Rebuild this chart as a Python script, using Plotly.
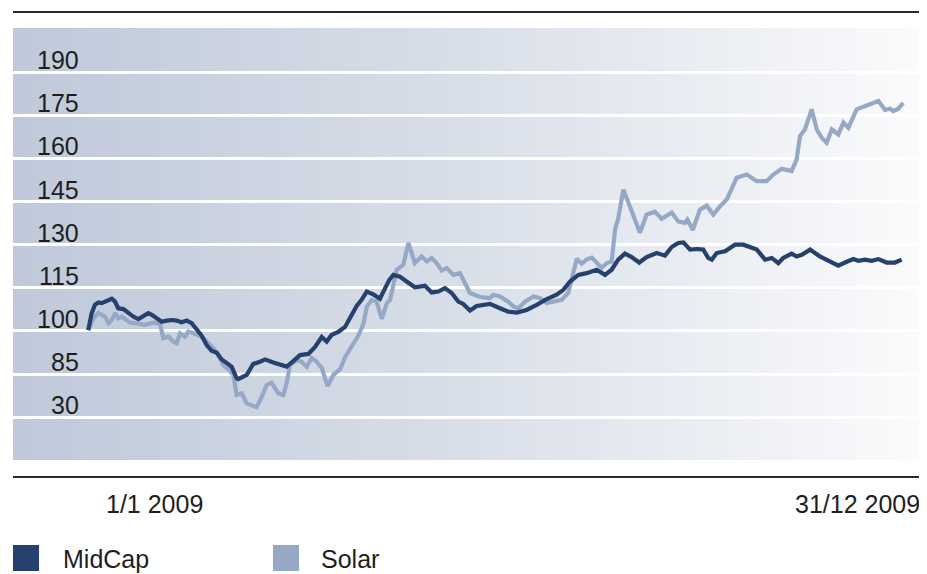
import base64
import plotly.graph_objects as go

# ---- data (day of year 2009, index value) ----
midcap_day = [0.1, 1.65, 3.1, 4.6, 6.1, 8.4, 10.6, 12.1, 13.5, 15.8, 18.0, 20.2, 22.5, 24.7, 26.9, 28.5,
              30.7, 32.9, 35.1, 37.4, 39.6, 41.8, 44.1, 46.3, 48.5, 50.8, 53.0, 55.2, 57.5, 59.7, 61.9,
              64.2, 66.4, 67.1, 70.9, 73.8, 76.8, 79.1, 82.8, 85.8, 88.7, 91.7, 94.7, 98.4, 101.4, 104.4,
              106.6, 108.8, 111.8, 114.8, 117.0, 120.0, 122.2, 124.5, 127.4, 130.4, 132.6, 134.6, 136.4,
              139.3, 142.3, 146.0, 150.5, 153.5, 156.5, 159.4, 162.4, 165.4, 167.6, 170.6, 173.6, 179.5,
              184.0, 187.7, 191.5, 195.9, 200.4, 204.9, 209.3, 212.3, 215.3, 219.0, 222.7, 227.2, 230.9,
              233.9, 236.8, 239.8, 242.8, 246.2, 249.5, 254.0, 257.7, 260.7, 263.6, 265.9, 268.9, 271.9,
              274.8, 277.0, 278.6, 280.8, 284.5, 289.0, 292.7, 298.7, 302.4, 305.4, 308.3, 310.5, 314.3,
              316.5, 318.8, 322.5, 326.9, 331.4, 335.1, 338.1, 341.8, 344.1, 347.0, 350.0, 353.0, 356.7,
              360.4, 363.4]
midcap_val = [100.3, 106.2, 109.1, 109.9, 109.7, 110.6, 111.2, 110.2, 107.9, 107.6, 106.2, 105.0, 104.1,
              105.2, 106.2, 105.6, 104.4, 103.2, 103.6, 103.8, 103.6, 103.0, 103.6, 102.7, 100.6, 98.3,
              95.1, 93.1, 92.4, 90.1, 88.9, 87.5, 83.5, 83.2, 84.7, 88.5, 89.3, 90.1, 89.0, 88.1, 87.6,
              89.5, 91.6, 92.0, 94.4, 97.9, 96.3, 98.6, 99.7, 101.4, 104.4, 108.7, 110.8, 113.7, 112.7,
              111.2, 114.7, 117.8, 119.5, 118.9, 117.2, 115.2, 115.7, 113.4, 113.7, 114.9, 113.2, 110.2,
              109.4, 107.1, 108.7, 109.4, 107.9, 106.7, 106.4, 107.3, 109.1, 111.1, 112.6, 114.3, 117.2,
              119.5, 120.1, 121.3, 119.5, 121.3, 124.8, 126.9, 125.7, 123.8, 125.7, 127.1, 126.2, 129.2,
              130.6, 130.8, 128.3, 128.5, 128.3, 125.4, 124.8, 127.1, 127.7, 130.0, 130.0, 128.3, 124.8,
              125.4, 123.6, 125.4, 126.9, 125.9, 126.5, 128.3, 125.9, 124.2, 122.7, 123.8, 125.0, 124.4,
              124.8, 124.4, 125.0, 123.8, 123.8, 124.8]

solar_day = [0.1, 2.4, 4.6, 6.1, 7.6, 9.1, 10.6, 12.1, 13.5, 15.1, 16.5, 18.8, 21.0, 23.2, 25.5, 27.7,
             29.9, 32.2, 33.6, 35.9, 38.1, 39.6, 41.1, 43.3, 44.8, 47.0, 49.3, 51.5, 53.7, 56.0, 58.2,
             60.4, 62.7, 64.9, 66.4, 68.6, 70.9, 73.1, 75.3, 77.6, 79.8, 82.0, 85.0, 87.2, 88.7, 90.2,
             93.2, 95.4, 97.7, 99.9, 102.1, 104.4, 107.0, 109.6, 112.6, 114.8, 117.8, 120.7, 123.0, 124.5,
             126.7, 128.9, 131.2, 133.5, 134.9, 137.9, 140.8, 143.1, 146.0, 149.0, 151.3, 153.5, 155.7,
             158.0, 160.2, 163.2, 166.1, 168.4, 170.6, 175.1, 179.5, 181.0, 184.0, 187.7, 190.0, 192.2,
             195.2, 198.9, 201.9, 204.9, 207.8, 211.6, 214.5, 216.0, 218.3, 220.5, 222.7, 225.0, 227.2,
             229.4, 231.7, 233.9, 235.4, 236.8, 239.1, 241.3, 242.8, 244.3, 246.5, 249.5, 253.2, 256.2,
             260.7, 263.6, 266.6, 267.7, 270.1, 273.3, 276.3, 279.3, 282.3, 285.3, 289.7, 294.2, 298.7,
             303.1, 306.1, 309.8, 314.3, 316.5, 318.0, 320.2, 323.2, 325.5, 327.7, 329.9, 332.2, 335.1,
             337.4, 339.6, 343.3, 347.0, 350.0, 353.0, 356.0, 358.2, 359.7, 361.9, 364.1]
solar_val = [100.3, 104.4, 106.2, 105.6, 105.0, 102.7, 103.8, 106.2, 104.4, 105.0, 104.1, 102.9, 102.7,
             102.4, 102.1, 102.7, 102.9, 102.4, 97.5, 98.0, 96.3, 95.7, 99.2, 98.0, 99.8, 99.2, 98.6,
             97.5, 95.7, 94.0, 91.6, 88.1, 86.6, 84.7, 77.7, 78.3, 74.8, 74.2, 73.5, 77.1, 81.2, 82.0,
             78.3, 77.7, 81.8, 88.1, 89.9, 89.3, 87.5, 90.6, 89.3, 87.1, 80.8, 84.7, 86.7, 90.9, 94.4,
             98.3, 102.4, 108.4, 110.8, 110.2, 104.2, 109.7, 110.8, 121.3, 123.0, 130.6, 123.6, 125.9,
             124.2, 125.4, 123.6, 121.0, 121.9, 119.5, 120.1, 116.6, 113.2, 111.8, 111.4, 112.6, 112.0,
             110.2, 108.5, 107.9, 110.2, 112.0, 111.4, 109.7, 110.2, 110.8, 113.3, 117.8, 125.1, 123.4,
             124.8, 125.5, 123.6, 122.0, 123.6, 124.2, 135.2, 139.1, 149.2, 145.1, 142.2, 138.7, 134.2,
             140.5, 141.5, 139.0, 141.2, 138.1, 137.6, 138.7, 135.1, 142.2, 143.6, 140.5, 143.4, 145.7,
             153.3, 154.4, 152.1, 152.1, 154.4, 156.4, 155.6, 159.7, 167.8, 170.1, 177.1, 170.1, 167.2,
             165.5, 170.1, 168.4, 172.5, 170.7, 177.1, 178.2, 178.8, 180.0, 176.9, 177.3, 176.5, 177.3,
             179.4]

tick_vals = [70, 85, 100, 115, 130, 145, 160, 175, 190]
tick_text = ["30", "85", "100", "115", "130", "145", "160", "175", "190"]
series_names = ["MidCap", "Solar"]
series_colors = ["#26416e", "#95a9c6"]
x_labels = ["1/1 2009", "31/12 2009"]

# page body has an 8px margin: figure sits at (8, 8) in the window
OFF = 8
W, H = 927 - OFF, 574 - OFF
PX0, PX1 = 13, 922      # plot area horizontal pixels (window coords)
PY0, PY1 = 28, 460      # plot area vertical pixels (window coords)
FONT = "Liberation Sans, Arial, Helvetica, sans-serif"
TXT = "#1e1e1e"


def fx(px):
    return (px - OFF) / W


def fy(py):
    return 1 - (py - OFF) / H


fig = go.Figure()
fig.add_trace(go.Scatter(x=solar_day, y=solar_val, mode="lines", name=series_names[1],
                         line=dict(color=series_colors[1], width=4.2), showlegend=False))
fig.add_trace(go.Scatter(x=midcap_day, y=midcap_val, mode="lines", name=series_names[0],
                         line=dict(color=series_colors[0], width=4.2), showlegend=False))

# gradient background as svg image
svg = ('<svg xmlns="http://www.w3.org/2000/svg" width="909" height="432" preserveAspectRatio="none">'
       '<defs><linearGradient id="g" x1="0" y1="0" x2="1" y2="0">'
       '<stop offset="0" stop-color="#bfc9da"/>'
       '<stop offset="0.5" stop-color="#d9dfe9"/>'
       '<stop offset="1" stop-color="#fbfbfc"/>'
       '</linearGradient></defs><rect x="0" y="0" width="909" height="432" fill="url(#g)"/></svg>')
src = "data:image/svg+xml;base64," + base64.b64encode(svg.encode()).decode()
fig.add_layout_image(dict(source=src, xref="paper", yref="paper", x=fx(PX0), y=fy(PY0),
                          sizex=(PX1 - PX0) / W, sizey=(PY1 - PY0) / H, sizing="stretch",
                          xanchor="left", yanchor="top", layer="below"))

# y labels above gridlines
for v, t in zip(tick_vals, tick_text):
    fig.add_annotation(x=fx(81), xref="paper", y=v, yref="y", text=t, showarrow=False,
                       xanchor="right", yanchor="bottom", yshift=-4,
                       font=dict(family=FONT, size=25, color=TXT))

# top and bottom rules
for py in (12, 477):
    fig.add_shape(type="line", xref="paper", yref="paper", x0=fx(PX0), x1=fx(PX1),
                  y0=fy(py), y1=fy(py), line=dict(color="#2a2a2a", width=2))

# x labels
fig.add_annotation(x=fx(154), xref="paper", y=fy(504), yref="paper", text=x_labels[0],
                   showarrow=False, xanchor="center", yanchor="middle",
                   font=dict(family=FONT, size=25, color=TXT))
fig.add_annotation(x=fx(922), xref="paper", y=fy(504), yref="paper", text=x_labels[1],
                   showarrow=False, xanchor="right", yanchor="middle",
                   font=dict(family=FONT, size=25, color=TXT))

# legend
for (sx, tx), name, col in zip([(13, 62), (273, 320)], series_names, series_colors):
    fig.add_shape(type="rect", xref="paper", yref="paper", x0=fx(sx), x1=fx(sx + 26),
                  y0=fy(571), y1=fy(545), line=dict(width=0), fillcolor=col)
    fig.add_annotation(x=fx(tx), xref="paper", y=fy(574), yref="paper", text=name,
                       showarrow=False, xanchor="left", yanchor="bottom", borderpad=0,
                       font=dict(family=FONT, size=25, color=TXT))

fig.update_layout(
    width=W, height=H, margin=dict(l=0, r=0, t=0, b=0),
    paper_bgcolor="white", plot_bgcolor="rgba(0,0,0,0)",
    xaxis=dict(domain=[fx(PX0), fx(PX1)], range=[(PX0 - 88) * 364 / 815, (PX1 - 88) * 364 / 815],
               showgrid=False, zeroline=False, showticklabels=False, showline=False, ticks=""),
    yaxis=dict(domain=[fy(PY1), fy(PY0)], range=[55.1, 205.4], tickvals=tick_vals,
               showgrid=True, gridcolor="white", gridwidth=2.5, zeroline=False,
               showticklabels=False, showline=False, ticks=""),
)

fig.write_html("out.html")
